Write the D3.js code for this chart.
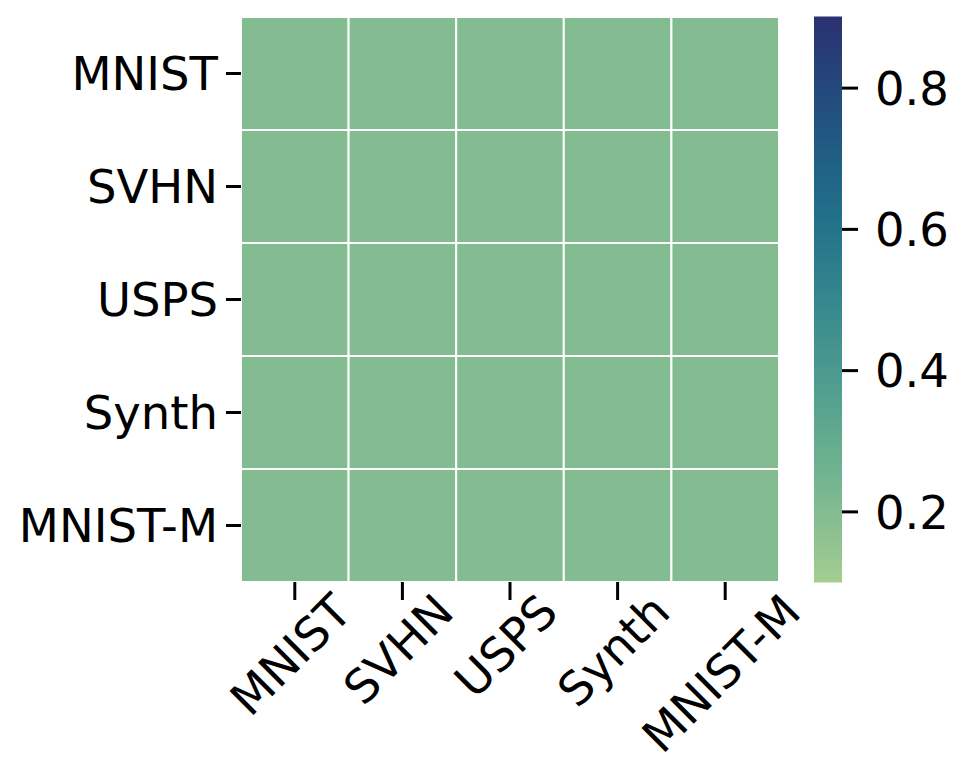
<!DOCTYPE html>
<html>
<head>
<meta charset="utf-8">
<script src="https://cdn.jsdelivr.net/npm/d3@7"></script>
<style>
  body { margin: 0; background: #fff; }
  text { font-family: "DejaVu Sans", sans-serif; fill: #000; }
</style>
</head>
<body>
<script>
var width = 967, height = 782;

// data
var rows = ["MNIST", "SVHN", "USPS", "Synth", "MNIST-M"];
var cols = ["MNIST", "SVHN", "USPS", "Synth", "MNIST-M"];
var values = [
    [0.2, 0.2, 0.2, 0.2, 0.2],
    [0.2, 0.2, 0.2, 0.2, 0.2],
    [0.2, 0.2, 0.2, 0.2, 0.2],
    [0.2, 0.2, 0.2, 0.2, 0.2],
    [0.2, 0.2, 0.2, 0.2, 0.2]
];
var colorDomain = [0.1, 0.9];
var cbarTicks = [0.2, 0.4, 0.6, 0.8];

// crest like colormap
var crest = ["#a5cd90", "#82bc92", "#64ac8f", "#4b9a8f", "#36878e",
             "#23748a", "#1f5f86", "#25497c", "#2c3172"];

var fontSize = 46.5;
// plot area (window.top is reserved, so no "top" variable)
var plotL = 241, plotR = 779, plotT = 17, plotB = 582;

var svg = d3.select("body")
    .append("svg")
    .attr("width", width)
    .attr("height", height);

var x = d3.scaleBand().domain(cols).range([plotL, plotR]);
var y = d3.scaleBand().domain(rows).range([plotT, plotB]);

var interp = d3.interpolateRgbBasis(crest);
var color = d3.scaleSequential(interp).domain(colorDomain);

// cells
var cells = [];
rows.forEach(function(r, i) {
    cols.forEach(function(c, j) {
        cells.push({row: r, col: c, value: values[i][j]});
    });
});

svg.append("g")
    .selectAll("rect")
    .data(cells)
    .enter()
    .append("rect")
    .attr("x", function(d) { return x(d.col); })
    .attr("y", function(d) { return y(d.row); })
    .attr("width", x.bandwidth())
    .attr("height", y.bandwidth())
    .attr("fill", function(d) { return color(d.value); })
    .attr("stroke", "#fff")
    .attr("stroke-width", 2);

// y axis
var yAxis = svg.append("g")
    .attr("transform", "translate(" + plotL + ",0)")
    .call(d3.axisLeft(y).tickSize(15).tickPadding(8));
yAxis.select(".domain").remove();
yAxis.selectAll(".tick line").attr("stroke", "#000").attr("stroke-width", 3);
yAxis.selectAll(".tick text")
    .style("font-size", fontSize + "px")
    .attr("dy", "0.36em");

// x axis, ticks only, labels rotated by hand
var xAxis = svg.append("g")
    .attr("transform", "translate(0," + plotB + ")")
    .call(d3.axisBottom(x).tickSize(18).tickFormat(""));
xAxis.select(".domain").remove();
xAxis.selectAll(".tick line").attr("stroke", "#000").attr("stroke-width", 3);

var asc = 0.928 * fontSize, desc = 0.236 * fontSize;
var s = Math.SQRT1_2;
var labelTop = plotB + 2;

svg.append("g")
    .selectAll("text")
    .data(cols)
    .enter()
    .append("text")
    .style("font-size", fontSize + "px")
    .attr("text-anchor", "middle")
    .text(function(d) { return d; })
    .attr("transform", function(d) {
        var L = this.getComputedTextLength();
        // center the rotated box on the tick, top under the tick
        var ax = x(d) + x.bandwidth() / 2 - s * (desc - asc) / 2 - 4;
        var ay = labelTop + s * (L / 2 + asc);
        return "translate(" + ax + "," + ay + ") rotate(-45)";
    });

// colorbar
var cbX = 814, cbW = 28;
var cy = d3.scaleLinear().domain(colorDomain).range([plotB, plotT]);
var steps = d3.range(256).map(function(i) {
    return colorDomain[0] + (colorDomain[1] - colorDomain[0]) * i / 256;
});
var stepH = (plotB - plotT) / 256;

svg.append("g")
    .selectAll("rect")
    .data(steps)
    .enter()
    .append("rect")
    .attr("x", cbX)
    .attr("y", function(d) { return cy(d) - stepH - 0.5; })
    .attr("width", cbW)
    .attr("height", stepH + 1)
    .attr("fill", function(d) { return color(d + (colorDomain[1] - colorDomain[0]) / 512); });

var cAxis = svg.append("g")
    .attr("transform", "translate(" + (cbX + cbW) + ",0)")
    .call(d3.axisRight(cy).tickValues(cbarTicks).tickSize(16).tickPadding(17)
        .tickFormat(d3.format(".1f")));
cAxis.select(".domain").remove();
cAxis.selectAll(".tick line").attr("stroke", "#000").attr("stroke-width", 3);
cAxis.selectAll(".tick text")
    .style("font-size", fontSize + "px")
    .attr("dy", "0.36em");
</script>
</body>
</html>
